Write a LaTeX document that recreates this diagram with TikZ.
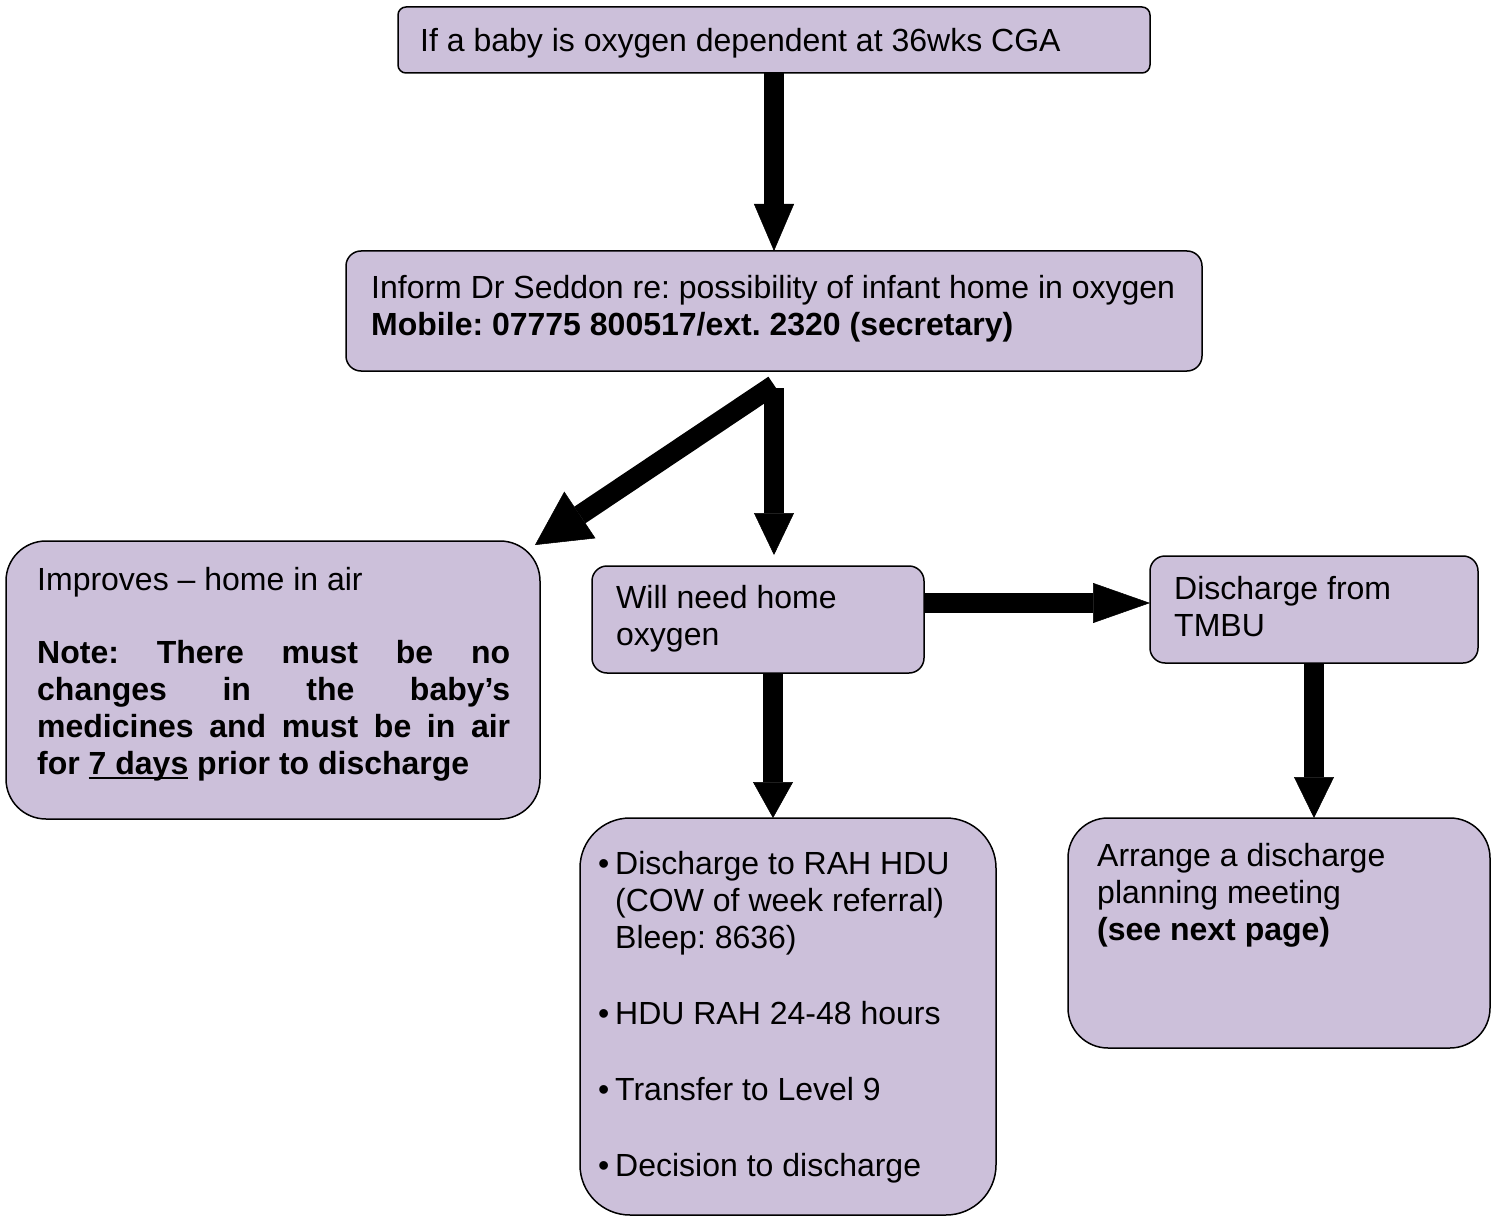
\documentclass[tikz,border=0pt]{standalone}
\usepackage{fontspec}
\setmainfont{Liberation Sans}
\usetikzlibrary{arrows.meta}
\definecolor{lav}{RGB}{204,192,218}
\newcommand\myul[1]{\setbox0\hbox{#1}\rlap{\rule[-5pt]{\wd0}{2.5pt}}\box0\relax}
\newcommand\bul{\llap{•\hspace{6pt}}}
\newcommand\fl{\rule{0pt}{32pt}}
\begin{document}
\begin{tikzpicture}[x=1pt,y=-1pt,
  box/.style={draw=black, line width=1.5pt, fill=lav, anchor=north west, inner sep=0pt, outer sep=0pt},
  txt/.style={anchor=north west, inner sep=0pt, align=left, font=\fontsize{32}{37}\selectfont\frenchspacing},
  arr/.style 2 args={line width=20pt, -{Triangle[length=#1, width=#2, line width=0.5pt]}}
]
\useasboundingbox (0,0) rectangle (1500,1217);
% boxes
\node[box, rounded corners=8pt, minimum width=752pt, minimum height=66pt] (top) at (398,7) {};
\node[box, rounded corners=15pt, minimum width=856pt, minimum height=120pt] (inf) at (346,251) {};
\node[box, rounded corners=40pt, minimum width=534pt, minimum height=278pt] (imp) at (6,541) {};
\node[box, rounded corners=15pt, minimum width=332pt, minimum height=107pt] (will) at (592,566) {};
\node[box, rounded corners=15pt, minimum width=328pt, minimum height=107pt] (tmbu) at (1150,556) {};
\node[box, rounded corners=50pt, minimum width=416pt, minimum height=397pt] (bul) at (580,818) {};
\node[box, rounded corners=40pt, minimum width=422pt, minimum height=230pt] (arrg) at (1068,818) {};
% texts (north west = first baseline - 32)
\node[txt] (ttop) at (420,19) {\fl If a baby is oxygen dependent at 36wks CGA};
\node[txt] (tinf) at (371,266) {\fl Inform Dr Seddon re: possibility of infant home in oxygen\\\textbf{Mobile: 07775 800517/ext. 2320 (secretary)}};
\node[txt] (timp) at (37,558) {\fl Improves – home in air\\[36pt]%
\textbf{\makebox[473pt][s]{Note: There must be no}}\\%
\textbf{\makebox[473pt][s]{changes in the baby’s}}\\%
\textbf{\makebox[473pt][s]{medicines and must be in air}}\\%
\textbf{for \myul{7 days} prior to discharge}};
\node[txt] (twill) at (616,576) {\fl Will need home\\oxygen};
\node[txt] (ttmbu) at (1174,567) {\fl Discharge from\\TMBU};
\node[txt] (tbul) at (615,842) {\fl\bul Discharge to RAH HDU\\(COW of week referral)\\Bleep: 8636)\\[39pt]%
\bul HDU RAH 24-48 hours\\[39pt]%
\bul Transfer to Level 9\\[39pt]%
\bul Decision to discharge};
\node[txt] (tarrg) at (1097,834) {\fl Arrange a discharge\\planning meeting\\\textbf{(see next page)}};
% arrows
\draw[arr={47pt}{40pt}] (top.south) -- (inf.north);
\coordinate (s1) at ([yshift=-14pt]inf.south);
\coordinate (e1) at ([xshift=-5pt,yshift=-4pt]imp.north east);
\draw[arr={54pt}{56pt}] (s1) -- (e1);
\coordinate (s2) at ([yshift=-17pt]inf.south);
\coordinate (e2) at (s2 |- will.north);
\draw[arr={42pt}{40pt}] (s2) -- ([yshift=11pt]e2);
\draw[arr={36pt}{40pt}] ([xshift=15pt]will.south) -- ([xshift=-15pt]bul.north);
\coordinate (h) at ([yshift=6.5pt]tmbu.west);
\draw[arr={57pt}{40pt}] (h -| will.east) -- (h);
\draw[arr={41pt}{40pt}] (tmbu.south) -- (tmbu.south |- arrg.north);
\end{tikzpicture}
\end{document}
